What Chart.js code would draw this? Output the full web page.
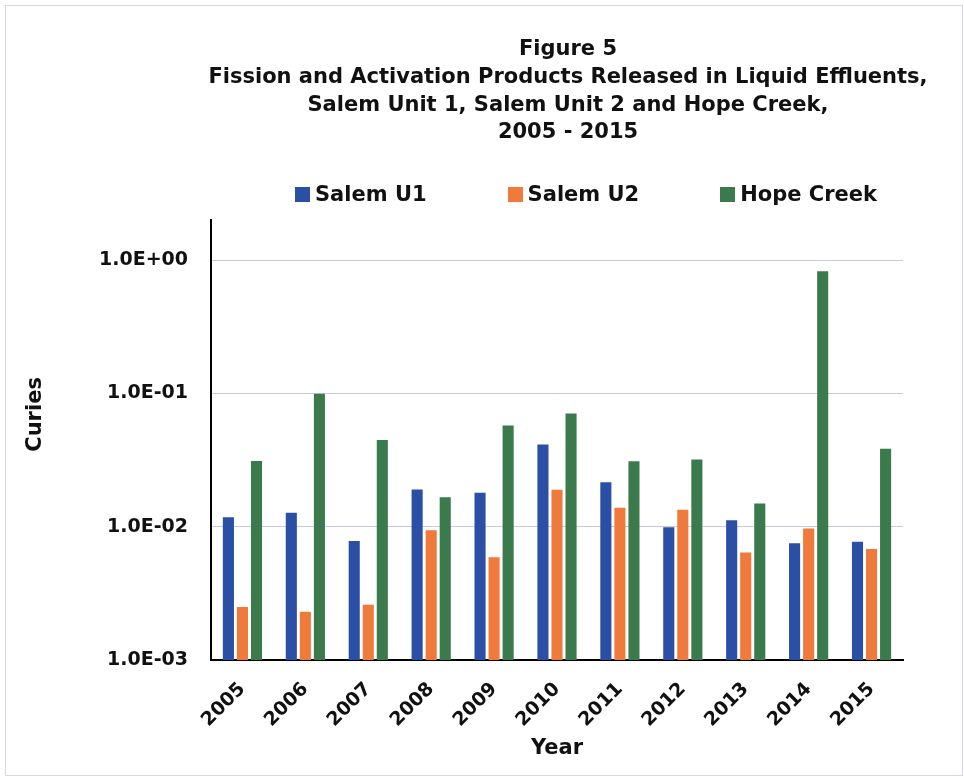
<!DOCTYPE html>
<html>
<head>
<meta charset="utf-8">
<script src="https://cdn.jsdelivr.net/npm/chart.js@4.4.1/dist/chart.umd.min.js"></script>
<style>
  body { margin: 0; background: #fff; }
  #wrap { position: relative; width: 964px; height: 779px; font-family: "DejaVu Sans", sans-serif; font-weight: bold; color: #111; }
  #frame { position: absolute; left: 5px; top: 5px; width: 956px; height: 769px; border: 1px solid #d8d6e4; pointer-events: none; }
  #title { position: absolute; left: 168px; top: 35px; width: 800px; text-align: center; font-size: 21px; line-height: 27.8px; }
  #legend { position: absolute; left: 295px; top: 180px; display: flex; gap: 81px; font-size: 21px; line-height: 28px; }
  #legend .item { display: flex; align-items: center; }
  #legend .box { width: 15px; height: 15px; margin-right: 5px; }
</style>
</head>
<body>
<div id="wrap">
  <canvas id="bar-chart"></canvas>
  <div id="title">Figure 5<br>Fission and Activation Products Released in Liquid Effluents,<br>Salem Unit 1, Salem Unit 2 and Hope Creek,<br>2005 - 2015</div>
  <div id="legend"></div>
  <div id="frame"></div>
</div>
<script>
var years = ["2005", "2006", "2007", "2008", "2009", "2010", "2011", "2012", "2013", "2014", "2015"];
var salemU1 = [0.0118, 0.0127, 0.0078, 0.0190, 0.0180, 0.0414, 0.0216, 0.0099, 0.0112, 0.0075, 0.0077];
var salemU2 = [0.0025, 0.0023, 0.0026, 0.0094, 0.0059, 0.0189, 0.0139, 0.0134, 0.0064, 0.0097, 0.0068];
var hopeCreek = [0.0311, 0.0995, 0.0448, 0.0166, 0.0575, 0.0706, 0.0310, 0.0319, 0.0149, 0.826, 0.0385];
var tickValues = [0.001, 0.01, 0.1, 1];
var tickLabels = ["1.0E-03", "1.0E-02", "1.0E-01", "1.0E+00"];

Chart.defaults.font.family = "DejaVu Sans";
Chart.defaults.font.weight = "bold";
Chart.defaults.color = "#111";

var chart = new Chart(document.getElementById("bar-chart"), {
    type: 'bar',
    data: {
      labels: years,
      datasets: [{
          label: "Salem U1",
          data: salemU1,
          backgroundColor: "#2c4fa6"
        }, {
          label: "Salem U2",
          data: salemU2,
          backgroundColor: "#ef7a3c"
        }, {
          label: "Hope Creek",
          data: hopeCreek,
          backgroundColor: "#3b7a4d"
        }
      ]
    },
    options: {
      responsive: true,
      maintainAspectRatio: false,
      animation: false,
      layout: { padding: { top: 220, right: 61, left: 0, bottom: 0 } },
      datasets: { bar: { categoryPercentage: 0.67, barPercentage: 0.79 } },
      plugins: {
        legend: { display: false },
        title: { display: false },
        tooltip: { enabled: false }
      },
      scales: {
        x: {
          grid: { display: false },
          border: { color: "#000", width: 2 },
          ticks: { font: { size: 19 }, maxRotation: 45, minRotation: 45, autoSkip: false, padding: 10 },
          title: { display: true, text: "Year", font: { size: 21 }, padding: { top: 0, bottom: 18 } },
          afterFit: function(scale) { scale.height = 119; }
        },
        y: {
          type: 'logarithmic',
          min: 0.001,
          max: 2,
          grid: { color: "rgba(185,180,210,0.75)", lineWidth: 1, drawTicks: false },
          border: { color: "#000", width: 2 },
          ticks: {
            font: { size: 19 },
            padding: 23,
            callback: function(value, index) { return tickLabels[index]; }
          },
          afterBuildTicks: function(scale) {
            scale.ticks = tickValues.map(function(v) { return { value: v }; });
          },
          // leading spaces lift the word a little above the axis middle, as in the original
          title: { display: true, text: "\u00a0\u00a0\u00a0\u00a0\u00a0\u00a0\u00a0Curies", font: { size: 21 }, padding: { top: 23, bottom: 0 } },
          afterFit: function(scale) { scale.width = 211; }
        }
      }
    }
});

// legend built from the datasets
var lg = document.getElementById("legend");
chart.data.datasets.forEach(function(ds) {
    var item = document.createElement("div");
    item.className = "item";
    var box = document.createElement("span");
    box.className = "box";
    box.style.background = ds.backgroundColor;
    var txt = document.createElement("span");
    txt.textContent = ds.label;
    item.appendChild(box);
    item.appendChild(txt);
    lg.appendChild(item);
});
</script>
</body>
</html>
